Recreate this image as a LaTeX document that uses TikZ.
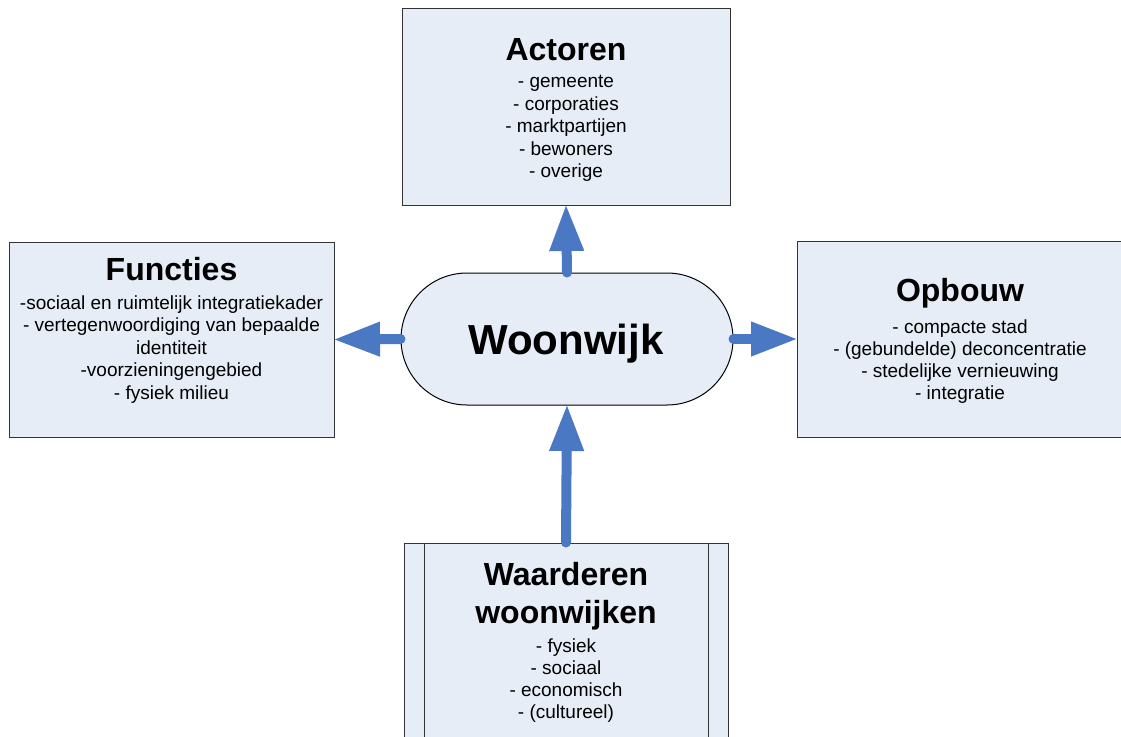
\documentclass[tikz,border=0pt]{standalone}
\usepackage{fontspec}
\setmainfont{Liberation Sans}
\usetikzlibrary{arrows.meta,shapes.misc}
\definecolor{boxfill}{HTML}{E7EDF7}
\definecolor{arrowblue}{HTML}{4A78C2}
\tikzset{
  box/.style={draw=black!80,line width=1pt,fill=boxfill,rectangle,inner sep=0pt},
  title/.style={anchor=base,inner sep=0pt,font=\fontsize{32}{36}\selectfont\bfseries},
  item/.style={anchor=base,inner sep=0pt,font=\fontsize{19}{22}\selectfont},
  bigarrow/.style={draw=arrowblue,line width=10pt,line cap=round,shorten >=-1.5pt,-{Triangle[length=47pt,width=32pt]}},
}
\begin{document}
\begin{tikzpicture}[x=1pt,y=-1pt]
\useasboundingbox (0,0) rectangle (1121,736);
% boxes
\node[box,minimum width=328pt,minimum height=197pt] (act) at (566,106.5) {};
\node[box,minimum width=325pt,minimum height=195pt] (fun) at (171.5,339.5) {};
\node[box,minimum width=330pt,minimum height=196pt] (opb) at (962,339) {};
\node[box,minimum width=324pt,minimum height=200pt] (waa) at (566,643) {};
\draw[black!80,line width=1pt] (424,543) -- (424,743) (708,543) -- (708,743);
% centre
\node[box,draw=black,rounded rectangle,minimum width=332pt,minimum height=132pt] (woon) at (567,339) {};
\node[anchor=base,inner sep=0pt,font=\fontsize{42}{46}\selectfont\bfseries] (woont) at (566,354) {Woonwijk};
% Actoren
\node[title] (actt) at (566,60) {Actoren};
\foreach \t [count=\i] in {- gemeente,- corporaties,- marktpartijen,- bewoners,- overige}
  \node[item] (act\i) at (566,{87.5+22.5*(\i-1)}) {\t};
% Functies
\node[title] (funt) at (171.5,280) {Functies};
\foreach \t [count=\i] in {-sociaal en ruimtelijk integratiekader,- vertegenwoordiging van bepaalde,identiteit,-voorzieningengebied,- fysiek milieu}
  \node[item] (fun\i) at (171.5,{309+22.5*(\i-1)}) {\t};
% Opbouw
\node[title] (opbt) at (960,301) {Opbouw};
\foreach \t [count=\i] in {- compacte stad,- (gebundelde) deconcentratie,- stedelijke vernieuwing,- integratie}
  \node[item] (opb\i) at (960,{333+22*(\i-1)}) {\t};
% Waarderen
\node[title] (waat1) at (566,585) {Waarderen};
\node[title] (waat2) at (566,623) {woonwijken};
\foreach \t [count=\i] in {- fysiek,- sociaal,- economisch,- (cultureel)}
  \node[item] (waa\i) at (566,{652+22*(\i-1)}) {\t};
% arrows
\draw[bigarrow] (woon.north) -- (act.south);
\draw[bigarrow] (woon.west) -- (fun.east);
\draw[bigarrow] (woon.east) -- (opb.west);
\draw[bigarrow] (waa.north) -- (woon.south);
\end{tikzpicture}
\end{document}
